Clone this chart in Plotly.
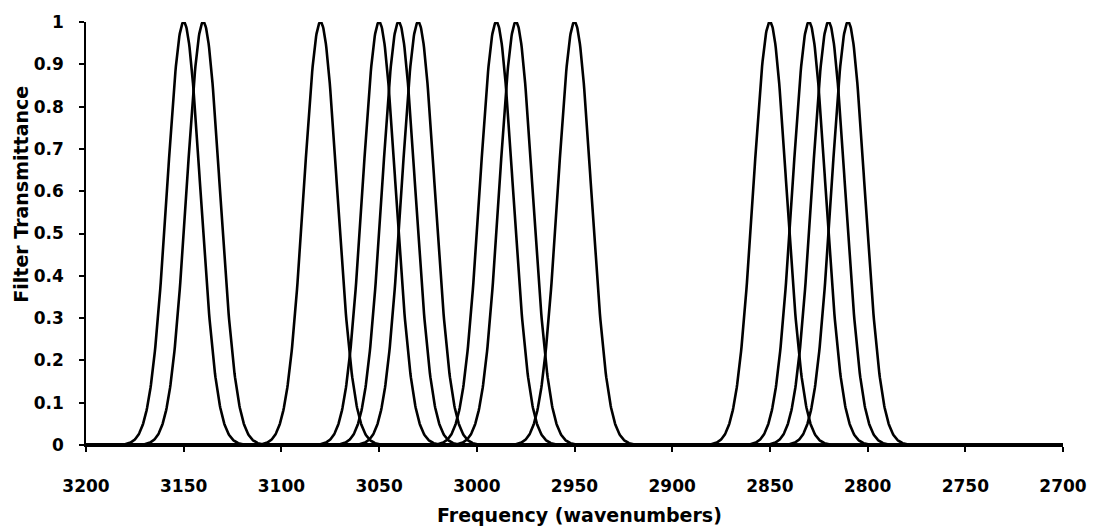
import numpy as np
import plotly.graph_objects as go

# Filter centre wavenumbers (cm^-1) and common passband width
centers = [3150, 3140, 3080, 3050, 3040, 3030, 2990, 2980, 2950,
           2850, 2830, 2820, 2810]
fwhm = 20.0  # full width at half maximum, cm^-1

x_ticks = [3200, 3150, 3100, 3050, 3000, 2950, 2900, 2850, 2800, 2750, 2700]
y_ticks = [0, 0.1, 0.2, 0.3, 0.4, 0.5, 0.6, 0.7, 0.8, 0.9, 1]
y_tick_text = ["0", "0.1", "0.2", "0.3", "0.4", "0.5", "0.6", "0.7", "0.8", "0.9", "1"]

x_title = "Frequency (wavenumbers)"
y_title = "Filter Transmittance"

wn = np.arange(3200, 2699.75, -0.25)
sigma = fwhm / (2 * np.sqrt(2 * np.log(2)))

fig = go.Figure()
for c in centers:
    fig.add_trace(go.Scatter(
        x=wn, y=np.exp(-0.5 * ((wn - c) / sigma) ** 2),
        mode="lines", line=dict(color="black", width=2.6),
        showlegend=False, hoverinfo="skip",
    ))

tfont = dict(family="DejaVu Sans", size=17, color="black", weight="bold")
title_font = dict(family="DejaVu Sans", size=19, color="black", weight="bold")

axis_common = dict(showgrid=False, zeroline=False, showline=True,
                   linecolor="black", linewidth=1.5, tickcolor="black",
                   tickwidth=1.5, ticklen=5)

fig.update_layout(
    width=1099, height=527,
    margin=dict(l=86, r=33, t=21, b=82),
    paper_bgcolor="white", plot_bgcolor="white",
    xaxis=dict(range=[3200, 2700], tickvals=x_ticks, ticks="outside",
               tickfont=tfont, ticklabelstandoff=20, **axis_common),
    yaxis=dict(range=[0, 1], tickvals=y_ticks, ticktext=y_tick_text,
               ticks="outside", tickfont=tfont, ticklabelstandoff=12,
               **axis_common),
    # inner halves of the crossing tick marks
    xaxis2=dict(range=[3200, 2700], tickvals=x_ticks, ticks="inside",
                showticklabels=False, overlaying="x", anchor="y", side="bottom",
                **axis_common),
    yaxis2=dict(range=[0, 1], tickvals=y_ticks, ticks="inside",
                showticklabels=False, overlaying="y", anchor="x", side="left",
                **axis_common),
    annotations=[
        dict(text=x_title, xref="paper", yref="paper", x=0.505, y=-0.165,
             xanchor="center", yanchor="middle", showarrow=False, font=title_font),
        dict(text=y_title, xref="paper", yref="paper", x=-0.066, y=0.593,
             xanchor="center", yanchor="middle", textangle=-90,
             showarrow=False, font=title_font),
    ],
)

fig.write_html("out.html")
